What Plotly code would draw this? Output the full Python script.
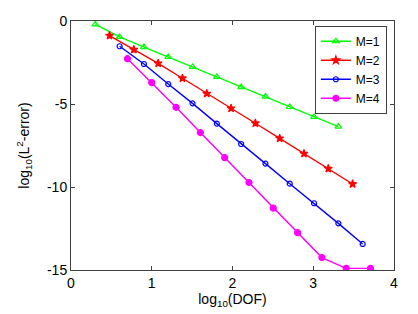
import plotly.graph_objects as go

# log10(DOF) values
x_m1 = [0.301, 0.602, 0.903, 1.204, 1.505, 1.806, 2.107, 2.408, 2.709, 3.010, 3.311]
y_m1 = [-0.20, -0.96, -1.57, -2.17, -2.77, -3.37, -3.98, -4.55, -5.18, -5.78, -6.36]

x_m2 = [0.477, 0.778, 1.079, 1.380, 1.681, 1.982, 2.283, 2.584, 2.885, 3.186, 3.487]
y_m2 = [-0.88, -1.72, -2.55, -3.45, -4.37, -5.26, -6.16, -7.07, -7.99, -8.89, -9.82]

x_m3 = [0.602, 0.903, 1.204, 1.505, 1.806, 2.107, 2.408, 2.709, 3.010, 3.311, 3.612]
y_m3 = [-1.52, -2.59, -3.80, -4.96, -6.18, -7.41, -8.59, -9.80, -10.98, -12.19, -13.43]

x_m4 = [0.699, 1.000, 1.301, 1.602, 1.903, 2.204, 2.505, 2.806, 3.107, 3.408, 3.709]
y_m4 = [-2.27, -3.71, -5.20, -6.72, -8.23, -9.73, -11.27, -12.75, -14.25, -14.90, -14.90]

names = ["M=1", "M=2", "M=3", "M=4"]
x_ticks = [0, 1, 2, 3, 4]
y_ticks = [0, -5, -10, -15]

series = [
    (x_m1, y_m1, names[0], "#00ff00", "triangle-up-open", 6),
    (x_m2, y_m2, names[1], "#ff0000", "star", 6),
    (x_m3, y_m3, names[2], "#0000ff", "circle-open", 5),
    (x_m4, y_m4, names[3], "#ff00ff", "circle", 6),
]

fig = go.Figure()
for xs, ys, nm, col, sym, sz in series:
    fig.add_trace(go.Scatter(
        x=xs, y=ys, name=nm, mode="lines+markers",
        line=dict(color=col, width=1.4),
        marker=dict(symbol=sym, size=sz, color=col, line=dict(color=col, width=1.2)),
    ))

axis_common = dict(
    showgrid=False, zeroline=False, showline=True, linecolor="#404040", linewidth=1,
    mirror="ticks", ticks="inside", ticklen=4, tickcolor="#404040", automargin=False,
    tickfont=dict(family="Liberation Sans, Arial", size=14, color="#000000"),
)

# page body has an 8px default margin, so the figure is sized/offset to compensate
fig.update_layout(
    width=410, height=306,
    margin=dict(l=63, r=24, t=13, b=44, autoexpand=False),
    paper_bgcolor="white", plot_bgcolor="white",
    font=dict(family="Liberation Sans, Arial", size=14, color="#000000"),
    xaxis=dict(range=[0, 4], tickvals=x_ticks, ticktext=[str(v) for v in x_ticks],
               title=dict(text="log<sub>10</sub>(DOF)", standoff=2,
                          font=dict(size=14)), **axis_common),
    yaxis=dict(range=[-15, 0], tickvals=y_ticks, ticktext=[str(v) for v in y_ticks],
               title=dict(text="log<sub>10</sub>(L<sup>2</sup>-error)", standoff=14,
                          font=dict(size=14)), **axis_common),
    legend=dict(x=0.755, y=0.981, xanchor="left", yanchor="top",
                bgcolor="white", bordercolor="#404040", borderwidth=1,
                font=dict(size=12), itemwidth=30, tracegroupgap=0),
    showlegend=True,
)

fig.write_html("out.html")
